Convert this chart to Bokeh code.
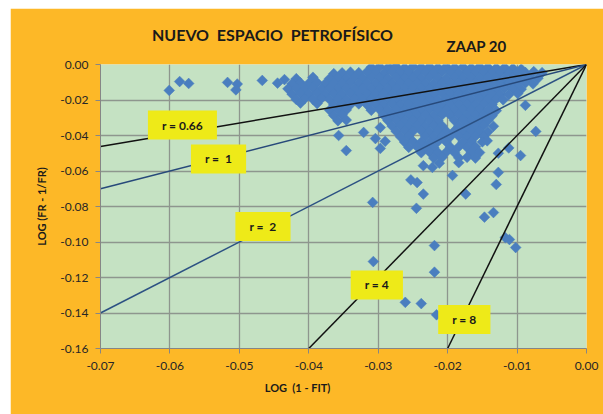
import numpy as np
from bokeh.plotting import figure
from bokeh.models import Range1d, FixedTicker, NumeralTickFormatter, Label, Spacer
from bokeh.layouts import column, row
from bokeh.embed import file_html
from bokeh.resources import INLINE

# Petrophysical cross-plot: LOG(1 - FIT) vs LOG(FR - 1/FR), well ZAAP 20
title_text = "NUEVO\u00a0 ESPACIO\u00a0 PETROFÍSICO"
well_name = "ZAAP 20"
x_title = "LOG\u00a0 (1 - FIT)"
y_title = "LOG (FR - 1/FR)"

x_ticks = [-0.07, -0.06, -0.05, -0.04, -0.03, -0.02, -0.01, 0.0]
y_ticks = [-0.16, -0.14, -0.12, -0.10, -0.08, -0.06, -0.04, -0.02, 0.0]

# reference lines through the origin, slope r
r_values = [0.66, 1, 2, 4, 8]
r_texts = ["r = 0.66", "r =\u00a0 1", "r =\u00a0 2", "r = 4", "r = 8"]
r_colors = ["#111111", "#27497a", "#2c5183", "#111111", "#111111"]
r_label_x = [-0.0582, -0.0530, -0.0466, -0.0302, -0.0176]
r_label_y = [-0.0341, -0.0532, -0.0913, -0.1242, -0.1437]

# main cluster of samples
cloud = [
    # y ~ -0.0015
    (-0.0310, -0.0016), (-0.0298, -0.0012), (-0.0286, -0.0018), (-0.0276, -0.0004), (-0.0274, -0.0014),
    (-0.0262, -0.0019), (-0.0250, -0.0011), (-0.0238, -0.0016), (-0.0226, -0.0013), (-0.0214, -0.0018),
    (-0.0202, -0.0012), (-0.0190, -0.0017), (-0.0178, -0.0014), (-0.0166, -0.0019), (-0.0154, -0.0013),
    (-0.0142, -0.0016), (-0.0130, -0.0020), (-0.0118, -0.0017), (-0.0106, -0.0022), (-0.0094, -0.0026),
    # y ~ -0.0045
    (-0.0364, -0.0052), (-0.0352, -0.0047), (-0.0340, -0.0043), (-0.0328, -0.0046), (-0.0316, -0.0041),
    (-0.0304, -0.0045), (-0.0292, -0.0048), (-0.0280, -0.0042), (-0.0268, -0.0046), (-0.0256, -0.0044),
    (-0.0244, -0.0047), (-0.0232, -0.0043), (-0.0220, -0.0046), (-0.0208, -0.0042), (-0.0196, -0.0045),
    (-0.0184, -0.0048), (-0.0172, -0.0043), (-0.0160, -0.0046), (-0.0148, -0.0044), (-0.0136, -0.0047),
    (-0.0124, -0.0043), (-0.0112, -0.0046), (-0.0100, -0.0042), (-0.0088, -0.0045), (-0.0076, -0.0040),
    (-0.0064, -0.0046),
    # y ~ -0.0075
    (-0.0418, -0.0080), (-0.0394, -0.0072), (-0.0370, -0.0079), (-0.0358, -0.0074), (-0.0346, -0.0077),
    (-0.0334, -0.0073), (-0.0322, -0.0076), (-0.0310, -0.0072), (-0.0298, -0.0075), (-0.0286, -0.0078),
    (-0.0274, -0.0073), (-0.0262, -0.0076), (-0.0250, -0.0074), (-0.0238, -0.0077), (-0.0226, -0.0072),
    (-0.0214, -0.0075), (-0.0202, -0.0078), (-0.0190, -0.0073), (-0.0178, -0.0076), (-0.0166, -0.0074),
    (-0.0154, -0.0077), (-0.0142, -0.0072), (-0.0130, -0.0075), (-0.0118, -0.0078), (-0.0106, -0.0073),
    (-0.0094, -0.0076), (-0.0082, -0.0074), (-0.0070, -0.0078),
    # y ~ -0.0105
    (-0.0424, -0.0108), (-0.0412, -0.0103), (-0.0400, -0.0106), (-0.0388, -0.0102), (-0.0376, -0.0107),
    (-0.0364, -0.0104), (-0.0352, -0.0106), (-0.0340, -0.0103), (-0.0328, -0.0107), (-0.0316, -0.0104),
    (-0.0304, -0.0106), (-0.0292, -0.0103), (-0.0280, -0.0107), (-0.0268, -0.0104), (-0.0256, -0.0106),
    (-0.0244, -0.0102), (-0.0232, -0.0105), (-0.0220, -0.0108), (-0.0208, -0.0103), (-0.0196, -0.0106),
    (-0.0184, -0.0104), (-0.0172, -0.0107), (-0.0160, -0.0103), (-0.0148, -0.0106), (-0.0136, -0.0104),
    (-0.0124, -0.0107), (-0.0112, -0.0103), (-0.0100, -0.0106), (-0.0088, -0.0104), (-0.0077, -0.0109),
    # y ~ -0.0135
    (-0.0430, -0.0137), (-0.0418, -0.0133), (-0.0406, -0.0136), (-0.0394, -0.0132), (-0.0382, -0.0137),
    (-0.0370, -0.0134), (-0.0358, -0.0136), (-0.0346, -0.0133), (-0.0334, -0.0137), (-0.0322, -0.0134),
    (-0.0310, -0.0136), (-0.0298, -0.0133), (-0.0286, -0.0137), (-0.0274, -0.0134), (-0.0262, -0.0136),
    (-0.0250, -0.0132), (-0.0238, -0.0135), (-0.0226, -0.0138), (-0.0214, -0.0133), (-0.0202, -0.0136),
    (-0.0190, -0.0134), (-0.0178, -0.0137), (-0.0166, -0.0133), (-0.0154, -0.0136), (-0.0142, -0.0134),
    (-0.0130, -0.0137), (-0.0118, -0.0133), (-0.0106, -0.0136), (-0.0094, -0.0139),
    # y ~ -0.0165
    (-0.0424, -0.0167), (-0.0412, -0.0163), (-0.0400, -0.0166), (-0.0388, -0.0162), (-0.0376, -0.0167),
    (-0.0364, -0.0164), (-0.0352, -0.0166), (-0.0340, -0.0163), (-0.0328, -0.0167), (-0.0316, -0.0164),
    (-0.0304, -0.0166), (-0.0292, -0.0163), (-0.0280, -0.0167), (-0.0268, -0.0164), (-0.0256, -0.0166),
    (-0.0244, -0.0162), (-0.0232, -0.0165), (-0.0220, -0.0168), (-0.0208, -0.0163), (-0.0196, -0.0166),
    (-0.0184, -0.0164), (-0.0172, -0.0167), (-0.0160, -0.0163), (-0.0148, -0.0166), (-0.0136, -0.0164),
    (-0.0124, -0.0167), (-0.0112, -0.0170),
    # y ~ -0.0195
    (-0.0418, -0.0197), (-0.0406, -0.0193), (-0.0394, -0.0196), (-0.0382, -0.0192), (-0.0370, -0.0197),
    (-0.0358, -0.0194), (-0.0346, -0.0196), (-0.0334, -0.0193), (-0.0322, -0.0197), (-0.0310, -0.0194),
    (-0.0298, -0.0196), (-0.0286, -0.0193), (-0.0274, -0.0197), (-0.0262, -0.0194), (-0.0250, -0.0196),
    (-0.0238, -0.0192), (-0.0226, -0.0195), (-0.0214, -0.0198), (-0.0202, -0.0193), (-0.0190, -0.0196),
    (-0.0178, -0.0194), (-0.0166, -0.0197), (-0.0154, -0.0193), (-0.0142, -0.0196), (-0.0130, -0.0194),
    (-0.0120, -0.0199),
    # y ~ -0.0225
    (-0.0412, -0.0217), (-0.0388, -0.0220),
    (-0.0364, -0.0227), (-0.0352, -0.0223), (-0.0340, -0.0226), (-0.0328, -0.0222), (-0.0316, -0.0227),
    (-0.0304, -0.0224), (-0.0292, -0.0226), (-0.0280, -0.0223), (-0.0268, -0.0227), (-0.0256, -0.0224),
    (-0.0244, -0.0226), (-0.0232, -0.0222), (-0.0220, -0.0225), (-0.0208, -0.0228), (-0.0196, -0.0223),
    (-0.0184, -0.0226), (-0.0172, -0.0224), (-0.0160, -0.0227), (-0.0148, -0.0223), (-0.0136, -0.0226),
    # y ~ -0.0255
    (-0.0370, -0.0257), (-0.0358, -0.0253), (-0.0346, -0.0256), (-0.0310, -0.0258), (-0.0298, -0.0254),
    (-0.0286, -0.0257), (-0.0274, -0.0253), (-0.0262, -0.0256), (-0.0250, -0.0254), (-0.0238, -0.0257),
    (-0.0226, -0.0253), (-0.0214, -0.0256), (-0.0202, -0.0254), (-0.0190, -0.0257), (-0.0178, -0.0253),
    (-0.0166, -0.0256), (-0.0154, -0.0254), (-0.0142, -0.0257), (-0.0130, -0.0260),
    # y ~ -0.0285
    (-0.0364, -0.0287), (-0.0352, -0.0283), (-0.0292, -0.0286), (-0.0280, -0.0283), (-0.0268, -0.0287),
    (-0.0256, -0.0284), (-0.0244, -0.0286), (-0.0232, -0.0283), (-0.0220, -0.0287), (-0.0208, -0.0284),
    (-0.0196, -0.0286), (-0.0184, -0.0283), (-0.0172, -0.0287), (-0.0160, -0.0284), (-0.0148, -0.0286),
    (-0.0136, -0.0289),
    # y ~ -0.0315
    (-0.0358, -0.0317), (-0.0346, -0.0313), (-0.0286, -0.0316), (-0.0274, -0.0313), (-0.0262, -0.0317),
    (-0.0250, -0.0314), (-0.0238, -0.0316), (-0.0226, -0.0313), (-0.0214, -0.0317), (-0.0190, -0.0316),
    (-0.0178, -0.0313), (-0.0166, -0.0317), (-0.0154, -0.0314), (-0.0142, -0.0316),
    # y ~ -0.0345
    (-0.0280, -0.0347), (-0.0268, -0.0343), (-0.0256, -0.0346), (-0.0244, -0.0343), (-0.0232, -0.0347),
    (-0.0220, -0.0344), (-0.0208, -0.0346), (-0.0184, -0.0347), (-0.0172, -0.0344),
    (-0.0160, -0.0346), (-0.0148, -0.0343), (-0.0134, -0.0348),
    # y ~ -0.0375
    (-0.0274, -0.0377), (-0.0262, -0.0373), (-0.0250, -0.0376), (-0.0238, -0.0373), (-0.0226, -0.0377),
    (-0.0214, -0.0374), (-0.0202, -0.0376), (-0.0190, -0.0373), (-0.0178, -0.0377), (-0.0166, -0.0374),
    (-0.0154, -0.0376), (-0.0142, -0.0379),
    # y ~ -0.0405
    (-0.0268, -0.0407), (-0.0256, -0.0403), (-0.0232, -0.0403), (-0.0220, -0.0407),
    (-0.0208, -0.0404), (-0.0196, -0.0406), (-0.0184, -0.0403), (-0.0172, -0.0407), (-0.0160, -0.0404),
    (-0.0148, -0.0406),
    # y ~ -0.0435
    (-0.0262, -0.0437), (-0.0250, -0.0433), (-0.0238, -0.0436), (-0.0226, -0.0438), (-0.0214, -0.0434),
    (-0.0202, -0.0436), (-0.0178, -0.0437), (-0.0166, -0.0434), (-0.0150, -0.0436),
    # y ~ -0.0465
    (-0.0256, -0.0467), (-0.0244, -0.0463), (-0.0232, -0.0466), (-0.0220, -0.0468), (-0.0196, -0.0466),
    (-0.0184, -0.0464), (-0.0172, -0.0467), (-0.0160, -0.0464),
    # y ~ -0.0495
    (-0.0238, -0.0497), (-0.0226, -0.0493), (-0.0214, -0.0496), (-0.0202, -0.0493), (-0.0190, -0.0497),
    (-0.0166, -0.0494), (-0.0154, -0.0496),
    # y ~ -0.0525
    (-0.0220, -0.0527), (-0.0208, -0.0523), (-0.0184, -0.0526), (-0.0172, -0.0523), (-0.0160, -0.0527),
    (-0.0212, -0.0556), (-0.0184, -0.0553),
]

# isolated samples away from the cluster
scattered = [
    (-0.0601, -0.0146), (-0.0586, -0.0096), (-0.0573, -0.0107), (-0.0517, -0.0101), (-0.0503, -0.0110),
    (-0.0505, -0.0143), (-0.0467, -0.0090), (-0.0445, -0.0105), (-0.0435, -0.0085),
    (-0.0357, -0.0400), (-0.0346, -0.0485), (-0.0321, -0.0383), (-0.0297, -0.0355), (-0.0304, -0.0417),
    (-0.0290, -0.0433), (-0.0297, -0.0473),
    (-0.0308, -0.0777), (-0.0307, -0.1110), (-0.0261, -0.1340), (-0.0238, -0.1347), (-0.0235, -0.0570),
    (-0.0222, -0.0580), (-0.0253, -0.0650), (-0.0244, -0.0665), (-0.0235, -0.0730), (-0.0245, -0.0810),
    (-0.0219, -0.1020), (-0.0219, -0.1170), (-0.0193, -0.0625), (-0.0127, -0.0608), (-0.0130, -0.0676),
    (-0.0174, -0.0730), (-0.0147, -0.0860), (-0.0134, -0.0834), (-0.0117, -0.0975), (-0.0111, -0.0986),
    (-0.0102, -0.1031), (-0.0216, -0.1410),
    (-0.0088, -0.0230), (-0.0073, -0.0377), (-0.0099, -0.0164), (-0.0127, -0.0500), (-0.0112, -0.0470),
    (-0.0095, -0.0513), (-0.0143, -0.0430),
]

ORANGE = "#fdb827"
GREEN = "#c5e2c3"
BLUE = "#4a7ebf"
YELLOW = "#eeea18"
GRID = "#8e968e"
FONT = "Lato"

x_min, x_max = -0.07, 0.0
y_min, y_max = -0.16, 0.0

p = figure(width=593, height=406, title=None, output_backend="svg", toolbar_location=None,
           x_range=Range1d(x_min, x_max), y_range=Range1d(y_min, y_max),
           min_border_left=90, min_border_right=17, min_border_top=56, min_border_bottom=66)
p.background_fill_color = GREEN
p.border_fill_color = ORANGE
p.outline_line_color = None

for ax, ticks in ((p.xaxis, x_ticks), (p.yaxis, y_ticks)):
    ax.ticker = FixedTicker(ticks=ticks)
    ax.formatter = NumeralTickFormatter(format="0.00")
    ax.axis_line_color = "#868686"
    ax.axis_line_width = 1
    ax.major_tick_line_color = "#868686"
    ax.major_tick_out = 5
    ax.major_tick_in = 0
    ax.minor_tick_line_color = None
    ax.major_label_text_font = FONT
    ax.major_label_text_font_size = "12px"
    ax.major_label_text_color = "#262626"
p.xaxis.major_label_standoff = 8
p.yaxis.major_label_standoff = 7

p.yaxis.axis_label = y_title
p.yaxis.axis_label_text_font = FONT
p.yaxis.axis_label_text_font_style = "bold"
p.yaxis.axis_label_text_font_size = "11px"
p.yaxis.axis_label_text_color = "#1a1a1a"
p.yaxis.axis_label_standoff = 9

for g in (p.xgrid, p.ygrid):
    g.grid_line_color = GRID
    g.grid_line_width = 1.3
p.xgrid.ticker = FixedTicker(ticks=x_ticks)
p.ygrid.ticker = FixedTicker(ticks=y_ticks)

xs = [pt[0] for pt in cloud + scattered]
ys = [pt[1] for pt in cloud + scattered]
p.scatter(xs, ys, marker="square", size=7.6, angle=np.pi / 4,
          fill_color=BLUE, line_color=BLUE, line_width=0.5)

# r lines from the origin to the edge of the frame
for r, col in zip(r_values, r_colors):
    x_end = max(x_min, y_min / r)
    p.line([x_end, 0.0], [r * x_end, 0.0], line_color=col, line_width=1.5)

for txt, lx, ly in zip(r_texts, r_label_x, r_label_y):
    p.add_layout(Label(x=lx, y=ly, text=txt, text_align="center", text_baseline="middle",
                       text_font=FONT, text_font_style="bold", text_font_size="12px",
                       text_color="#1a1a1a", background_fill_color=YELLOW,
                       padding=(14, 7)))

# texts in the border panels, in pixels from the panel's corner
def side_label(text, place, sx, sy, size):
    p.add_layout(Label(x=sx, y=sy, x_units="screen", y_units="screen", text=text,
                       text_align="center", text_baseline="middle",
                       text_font=FONT, text_font_style="bold", text_font_size=size,
                       text_color="#1a1a1a"), place)

side_label(title_text, "above", 172, 30, "16px")
side_label(well_name, "above", 376, 0, "15px")
side_label(x_title, "below", 197, -2, "11px")

layout = column(Spacer(height=8, width=603),
                row(Spacer(width=10, height=406), p))

open("out.html", "w").write(file_html(layout, INLINE))
